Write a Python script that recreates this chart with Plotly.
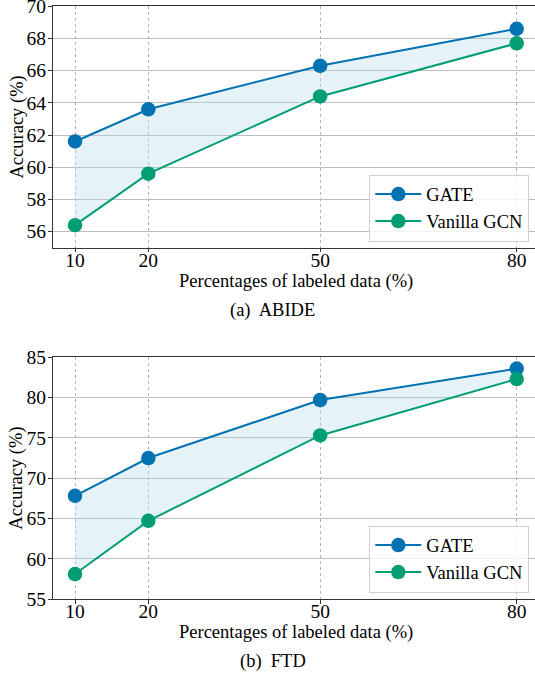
import plotly.graph_objects as go

# ---------------- data ----------------
labeled_pct = ["10", "20", "50", "80"]
series_names = ["GATE", "Vanilla GCN"]
abide_gate = [61.6, 63.6, 66.3, 68.6]
abide_gcn = [56.4, 59.6, 64.4, 67.7]
ftd_gate = [67.8, 72.5, 79.7, 83.6]
ftd_gcn = [58.1, 64.7, 75.3, 82.3]
abide_yticks = [56, 58, 60, 62, 64, 66, 68, 70]
ftd_yticks = [55, 60, 65, 70, 75, 80, 85]
panel_captions = ["(a)  ABIDE", "(b)  FTD"]
x_title = "Percentages of labeled data (%)"
y_title = "Accuracy (%)"

# ---------------- layout helpers ----------------
W, H = 535, 676
x_slots = [0.0, 0.166, 0.555, 1.0]      # horizontal slot of each category
XR = [-0.0505, 1.0414]
PL, PR = 52.7, 535.0
panels = [
    dict(top=6.3, bottom=247.7, yr=[55, 70], ticks=abide_yticks,
         gate=abide_gate, gcn=abide_gcn, cap=panel_captions[0]),
    dict(top=357.3, bottom=599.0, yr=[55, 85], ticks=ftd_yticks,
         gate=ftd_gate, gcn=ftd_gcn, cap=panel_captions[1]),
]
BLUE = "#0173B2"
GREEN = "#029E73"
FILL = "rgba(173,216,230,0.32)"
FONT = "Times New Roman, Liberation Serif, serif"


def xp(px):
    return px / W


def yp(py):
    return 1 - py / H


fig = go.Figure()
annotations = []

for i, p in enumerate(panels):
    xa = "x" if i == 0 else "x2"
    ya = "y" if i == 0 else "y2"
    leg = "legend" if i == 0 else "legend2"
    # fill between the two series
    fig.add_trace(go.Scatter(x=x_slots, y=p["gcn"], mode="lines",
                             line=dict(width=0, color=GREEN), showlegend=False,
                             hoverinfo="skip", xaxis=xa, yaxis=ya, legend=leg))
    fig.add_trace(go.Scatter(x=x_slots, y=p["gate"], mode="lines",
                             line=dict(width=0, color=BLUE), fill="tonexty",
                             fillcolor=FILL, showlegend=False,
                             hoverinfo="skip", xaxis=xa, yaxis=ya, legend=leg))
    for name, vals, col in [(series_names[0], p["gate"], BLUE),
                            (series_names[1], p["gcn"], GREEN)]:
        fig.add_trace(go.Scatter(
            x=x_slots, y=vals, mode="lines+markers", name=name,
            line=dict(color=col, width=2),
            marker=dict(size=14.5, color=col, line=dict(width=0)),
            legend=leg, xaxis=xa, yaxis=ya))

    axis_common = dict(showline=True, linecolor="#333333", linewidth=1.4,
                       mirror=True, ticks="outside", ticklen=3.5,
                       tickcolor="#333333", tickwidth=1.2, zeroline=False,
                       automargin=False, ticklabeloverflow="allow",
                       tickfont=dict(family=FONT, size=19.5, color="black"))
    xdom = [xp(PL), xp(PR)]
    ydom = [yp(p["bottom"]), yp(p["top"])]
    fig.update_layout(**{
        ("xaxis" if i == 0 else "xaxis2"): dict(
            domain=xdom, range=XR, anchor=ya, tickmode="array",
            tickvals=x_slots, ticktext=labeled_pct, showgrid=True,
            gridcolor="#b5b5b5", gridwidth=1, griddash="dot",
            ticklabelstandoff=-9, **axis_common),
        ("yaxis" if i == 0 else "yaxis2"): dict(
            domain=ydom, range=p["yr"], anchor=xa, tickmode="array",
            tickvals=p["ticks"], showgrid=True, gridcolor="#bdbdbd",
            gridwidth=1.3, ticklabelstandoff=-2, **axis_common),
    })
    # axis titles and caption
    annotations.append(dict(text=x_title, x=xp((PL + 538.8) / 2),
                            y=yp(p["bottom"] + 33.5), xref="paper",
                            yref="paper", showarrow=False, xanchor="center",
                            yanchor="middle",
                            font=dict(family=FONT, size=18.5, color="black")))
    annotations.append(dict(text=y_title, x=xp(16.5),
                            y=yp((p["top"] + p["bottom"]) / 2), xref="paper",
                            yref="paper", showarrow=False, textangle=-90,
                            xanchor="center", yanchor="middle",
                            font=dict(family=FONT, size=18.5, color="black")))
    annotations.append(dict(text=p["cap"], x=xp(272.5),
                            y=yp(p["bottom"] + 62.5), xref="paper",
                            yref="paper", showarrow=False, xanchor="center",
                            yanchor="middle",
                            font=dict(family=FONT, size=18.5, color="black")))

legend_common = dict(xanchor="right", yanchor="bottom", traceorder="normal",
                     bgcolor="rgba(255,255,255,0.8)", bordercolor="#d0d0d0",
                     borderwidth=1, font=dict(family=FONT, size=18.5, color="black"),
                     tracegroupgap=0, itemwidth=46)
fig.update_layout(
    width=W, height=H, margin=dict(l=0, r=0, t=0, b=0, autoexpand=False),
    paper_bgcolor="white", plot_bgcolor="white",
    annotations=annotations,
    legend=dict(x=xp(529.3), y=yp(241.5), **legend_common),
    legend2=dict(x=xp(529.3), y=yp(592.5), **legend_common),
    showlegend=True,
)

fig.write_html("out.html", config={"displayModeBar": False},
               post_script="document.body.style.margin='0';"
                           "document.body.style.padding='0';")
